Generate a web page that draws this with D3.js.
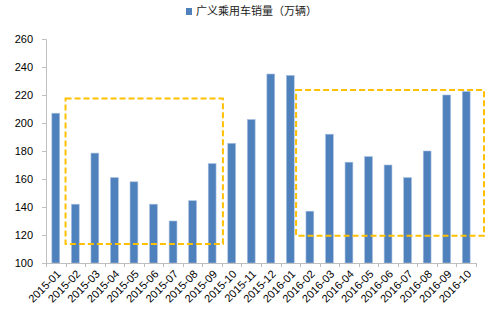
<!DOCTYPE html>
<html>
<head>
<meta charset="utf-8">
<script src="https://cdn.jsdelivr.net/npm/d3@7"></script>
<style>
  body { margin: 0; background: #fff; }
  svg text { font-family: "Liberation Sans", Arial, sans-serif; }
</style>
</head>
<body>
<div id="chart"></div>
<script>
var months = ["2015-01","2015-02","2015-03","2015-04","2015-05","2015-06","2015-07","2015-08","2015-09","2015-10","2015-11","2015-12",
              "2016-01","2016-02","2016-03","2016-04","2016-05","2016-06","2016-07","2016-08","2016-09","2016-10"];
var sales = [207, 142, 178.5, 161, 158, 142, 130, 144.5, 171, 185.5, 202.5, 235,
             234, 137, 192, 172, 176, 170, 161, 180, 220, 222.5];
var yTicks = [100, 120, 140, 160, 180, 200, 220, 240, 260];
var seriesName = "广义乘用车销量（万辆）";
// highlighted periods: first/last month and value range
var boxes = [
  {from: "2015-02", to: "2015-09", lo: 113.5, hi: 217.5},
  {from: "2016-02", to: "2016-10", lo: 119.5, hi: 223.5}
];

var width = 490, height = 313;
var margin = {left: 46, right: 14, top: 39, bottom: 50};

var vis = d3.select("#chart").append("svg")
    .attr("width", width).attr("height", height);

var x = d3.scaleBand()
    .domain(months)
    .range([margin.left, width - margin.right])
    .paddingInner(0.6).paddingOuter(0.3);

var y = d3.scaleLinear()
    .domain([100, 260])
    .range([height - margin.bottom, margin.top]);

var step = x.step();
var bandStart = function(m) { return x(m) - step * x.paddingInner() / 2; };

// y axis
var yAxis = vis.append("g")
    .attr("transform", "translate(" + margin.left + ",0)")
    .call(d3.axisLeft(y).tickValues(yTicks).tickSize(4).tickPadding(9));
yAxis.select(".domain").attr("stroke", "#bfbfbf");
yAxis.selectAll(".tick line").attr("stroke", "#bfbfbf");
yAxis.selectAll("text").attr("fill", "#000").style("font-size", "11px");

// bars
vis.selectAll("rect.bar")
    .data(months)
    .enter().append("rect")
    .attr("class", "bar")
    .attr("x", function(d) { return x(d); })
    .attr("width", x.bandwidth())
    .attr("y", function(d, i) { return y(sales[i]); })
    .attr("height", function(d, i) { return y(100) - y(sales[i]); })
    .attr("fill", "#4f81bd")
    .attr("stroke", "#a9c0e0")
    .attr("stroke-width", 0.6);

// x axis line + ticks at band edges
var xg = vis.append("g");
xg.append("line")
    .attr("x1", margin.left).attr("x2", width - margin.right)
    .attr("y1", y(100) + 0.5).attr("y2", y(100) + 0.5)
    .attr("stroke", "#bfbfbf");
xg.selectAll("line.tk")
    .data(d3.range(months.length + 1))
    .enter().append("line")
    .attr("class", "tk")
    .attr("x1", function(i) { return Math.round(margin.left + i * step) + 0.5; })
    .attr("x2", function(i) { return Math.round(margin.left + i * step) + 0.5; })
    .attr("y1", y(100)).attr("y2", y(100) + 4)
    .attr("stroke", "#bfbfbf");
xg.selectAll("text")
    .data(months)
    .enter().append("text")
    .attr("transform", function(d) {
        return "translate(" + (x(d) + x.bandwidth() / 2 + 3) + "," + (y(100) + 9) + ") rotate(-45)";
    })
    .attr("text-anchor", "end")
    .attr("dy", "0.35em")
    .style("font-size", "11px")
    .text(function(d) { return d; });

// dashed highlight boxes
vis.selectAll("rect.hl")
    .data(boxes)
    .enter().append("rect")
    .attr("class", "hl")
    .attr("x", function(d, i) { return bandStart(d.from) - (i === 1 ? 4 : 0); })
    .attr("width", function(d, i) {
        var x0 = bandStart(d.from) - (i === 1 ? 4 : 0);
        var x1 = bandStart(d.to) + step + (d.to === months[months.length - 1] ? 8 : 1);
        return x1 - x0;
    })
    .attr("y", function(d) { return y(d.hi); })
    .attr("height", function(d) { return y(d.lo) - y(d.hi); })
    .attr("fill", "none")
    .attr("stroke", "#ffc000")
    .attr("stroke-width", 2)
    .attr("stroke-dasharray", "6,3");

// legend
var lg = vis.append("g").attr("transform", "translate(186,8)");
lg.append("rect").attr("width", 6).attr("height", 7).attr("fill", "#4f81bd");
lg.append("text")
    .attr("x", 10).attr("y", 7)
    .style("font-family", "'Noto Sans CJK SC', sans-serif")
    .style("font-size", "11px")
    .attr("fill", "#222")
    .text(seriesName);
</script>
</body>
</html>
